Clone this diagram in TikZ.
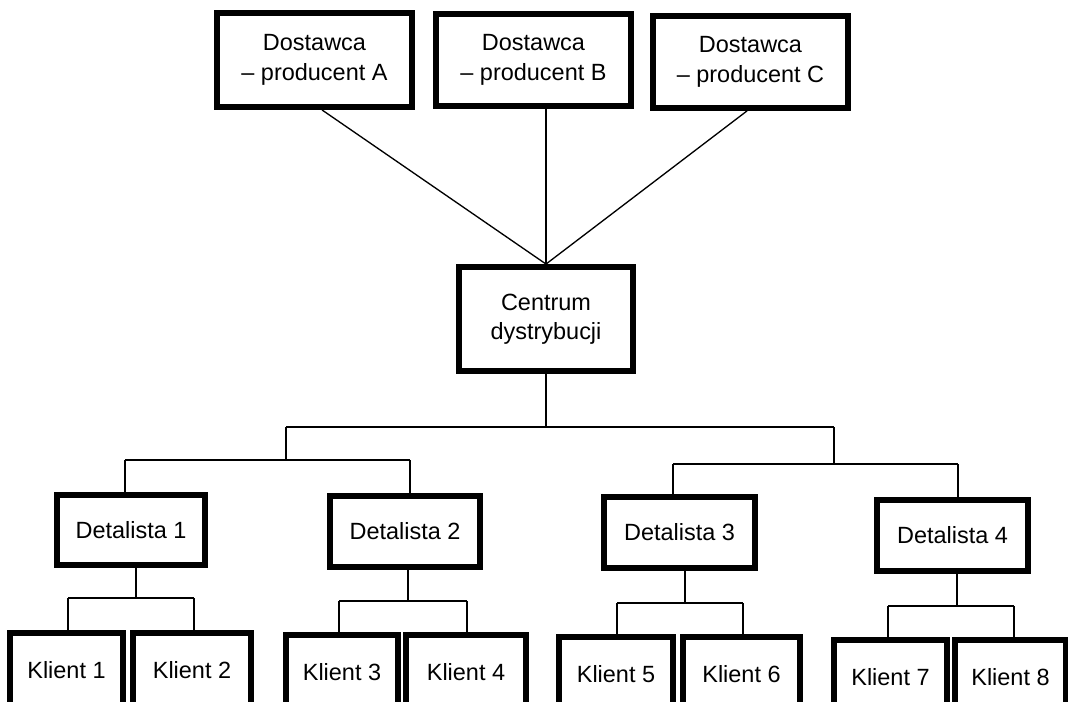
\documentclass[tikz,border=0pt]{standalone}
\usepackage{fontspec}
\setmainfont{Liberation Sans}
\begin{document}
\begin{tikzpicture}[x=0.75pt,y=-0.75pt,
  box/.style={draw, line width=4.4pt, align=center, inner sep=0pt,
    font=\fontsize{17.6pt}{22pt}\selectfont},
  conn/.style={line width=1pt}]
\useasboundingbox (0,0) rectangle (1068,702);
\fill[white] (0,0) rectangle (1068,702);
\clip (0,0) rectangle (1068,702);
% suppliers
\node[box, minimum width=146.25pt, minimum height=70.5pt] (a) at (314.5,60) {Dostawca\\– producent A};
\node[box, minimum width=146.25pt, minimum height=69pt] (b) at (533.5,60) {Dostawca\\– producent B};
\node[box, minimum width=146.25pt, minimum height=69pt] (c) at (750.5,62) {Dostawca\\– producent C};
% centre
\node[box, minimum width=130.5pt, minimum height=78pt] (cen) at (546,319) {Centrum\\dystrybucji};
% retailers
\node[box, minimum width=111pt, minimum height=52.5pt] (d1) at (131,530) {Detalista 1};
\node[box, minimum width=112.5pt, minimum height=53.25pt] (d2) at (405,531.5) {Detalista 2};
\node[box, minimum width=113.25pt, minimum height=53.25pt] (d3) at (679.5,532.5) {Detalista 3};
\node[box, minimum width=113.25pt, minimum height=53.25pt] (d4) at (952.5,535.5) {Detalista 4};
% clients
\node[box, minimum width=84.75pt, minimum height=55.5pt] (k1) at (66.5,670) {Klient 1};
\node[box, minimum width=88.5pt, minimum height=55.5pt] (k2) at (192,670) {Klient 2};
\node[box, minimum width=84pt, minimum height=55.5pt] (k3) at (342,672) {Klient 3};
\node[box, minimum width=90pt, minimum height=55.5pt] (k4) at (466,672) {Klient 4};
\node[box, minimum width=85.5pt, minimum height=55.5pt] (k5) at (616,674) {Klient 5};
\node[box, minimum width=87.75pt, minimum height=55.5pt] (k6) at (741.5,674) {Klient 6};
\node[box, minimum width=84.75pt, minimum height=55.5pt] (k7) at (890.5,677) {Klient 7};
\node[box, minimum width=83.25pt, minimum height=55.5pt] (k8) at (1010.5,677) {Klient 8};
% supplier connectors
\coordinate (as) at (322,0);
\coordinate (bs) at (546,0);
\coordinate (cs) at (747,0);
\draw[conn] (a.south -| as) -- (cen.north);
\draw[conn] (b.south -| bs) -- (cen.north);
\draw[conn] (c.south -| cs) -- (cen.north);
% level 1
\coordinate (j0) at (546,427);
\coordinate (jl) at (286,427);
\coordinate (jr) at (834,427);
\draw[conn] (cen.south) -- (j0);
\draw[conn] (jl) -- (jr);
\coordinate (l1) at (286,460);
\coordinate (l1a) at (125,460);
\coordinate (l1b) at (410,460);
\draw[conn] (jl) -- (l1);
\draw[conn] (l1a) -- (l1b);
\draw[conn] (l1a) -- (l1a |- d1.north);
\draw[conn] (l1b) -- (l1b |- d2.north);
\coordinate (r1) at (834,464);
\coordinate (r1a) at (673,464);
\coordinate (r1b) at (958,464);
\draw[conn] (jr) -- (r1);
\draw[conn] (r1a) -- (r1b);
\draw[conn] (r1a) -- (r1a |- d3.north);
\draw[conn] (r1b) -- (r1b |- d4.north);
% retailer 1
\coordinate (e1) at (136,598);
\coordinate (e1a) at (68,598);
\coordinate (e1b) at (194,598);
\draw[conn] (d1.south -| e1) -- (e1);
\draw[conn] (e1a) -- (e1b);
\draw[conn] (e1a) -- (e1a |- k1.north);
\draw[conn] (e1b) -- (e1b |- k2.north);
% retailer 2
\coordinate (e2) at (408,601);
\coordinate (e2a) at (339,601);
\coordinate (e2b) at (467,601);
\draw[conn] (d2.south -| e2) -- (e2);
\draw[conn] (e2a) -- (e2b);
\draw[conn] (e2a) -- (e2a |- k3.north);
\draw[conn] (e2b) -- (e2b |- k4.north);
% retailer 3
\coordinate (e3) at (685,603);
\coordinate (e3a) at (617,603);
\coordinate (e3b) at (743,603);
\draw[conn] (d3.south -| e3) -- (e3);
\draw[conn] (e3a) -- (e3b);
\draw[conn] (e3a) -- (e3a |- k5.north);
\draw[conn] (e3b) -- (e3b |- k6.north);
% retailer 4
\coordinate (e4) at (957,606);
\coordinate (e4a) at (888,606);
\coordinate (e4b) at (1014,606);
\draw[conn] (d4.south -| e4) -- (e4);
\draw[conn] (e4a) -- (e4b);
\draw[conn] (e4a) -- (e4a |- k7.north);
\draw[conn] (e4b) -- (e4b |- k8.north);
\end{tikzpicture}
\end{document}
